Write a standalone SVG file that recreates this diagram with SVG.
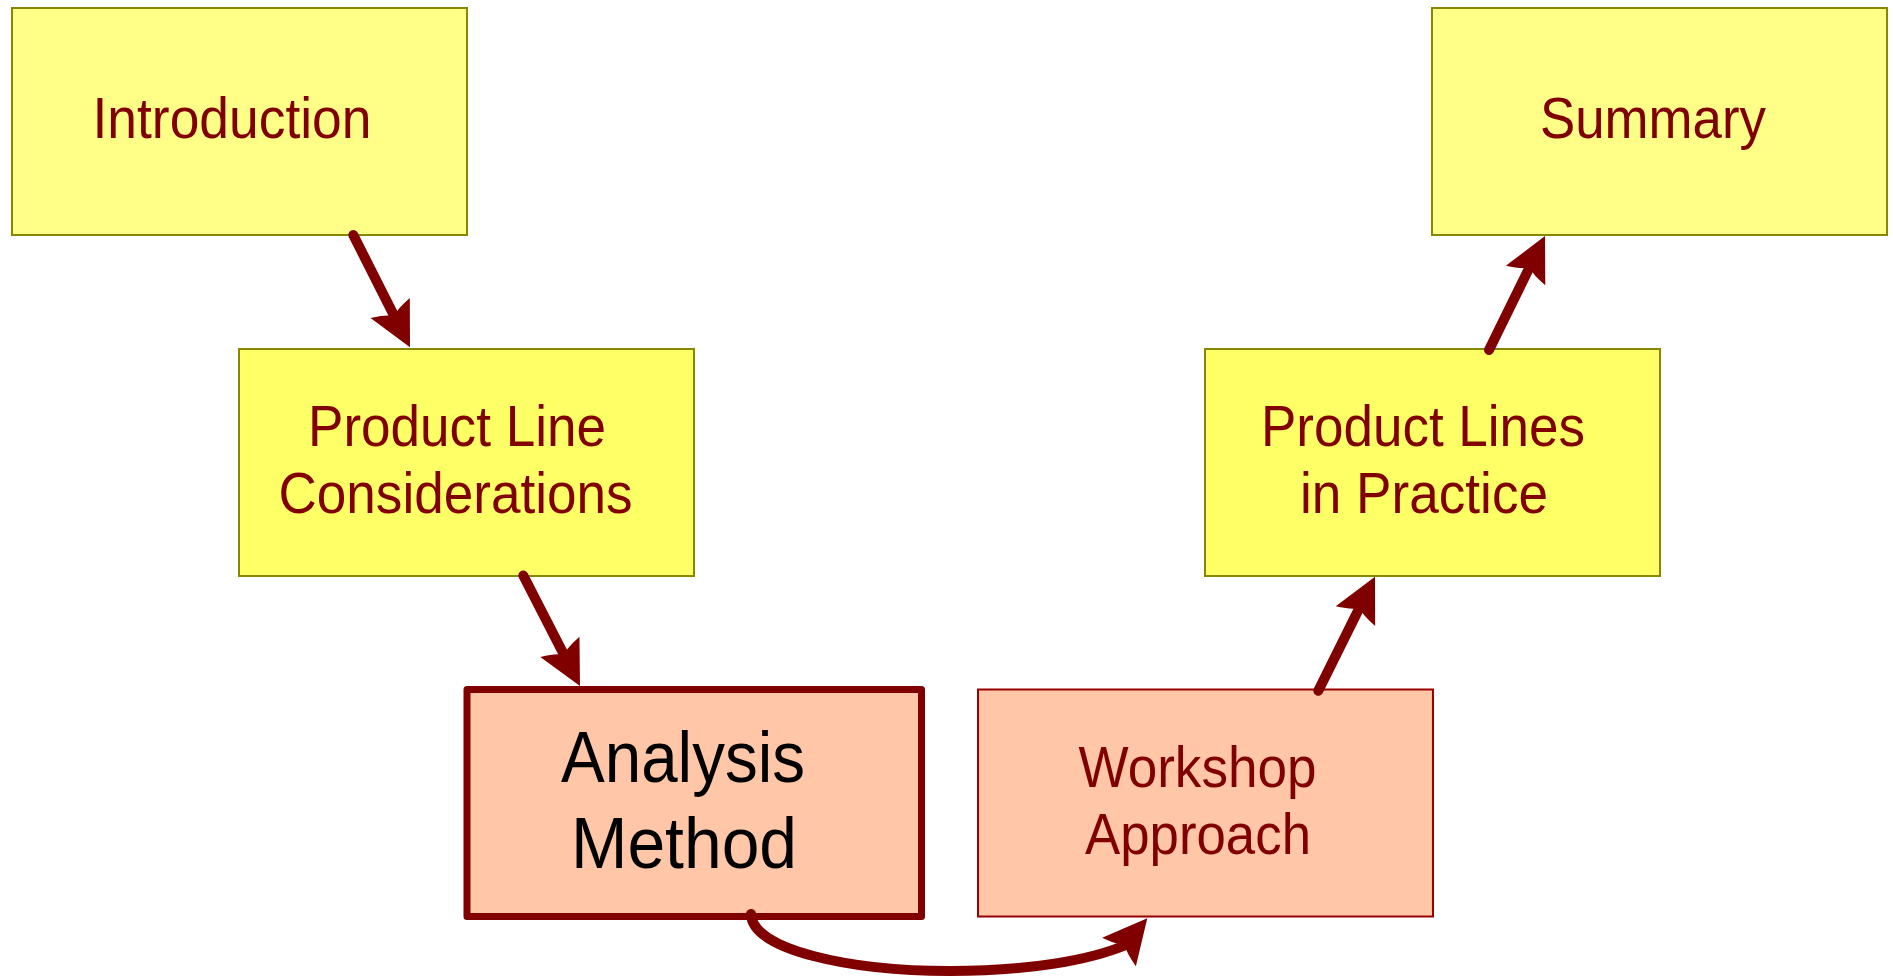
<svg xmlns="http://www.w3.org/2000/svg" xmlns:xlink="http://www.w3.org/1999/xlink" width="1893" height="977" viewBox="0 0 1893 977">
<style>
  .lt { fill: #ffff88; stroke: #888800; stroke-width: 2; }
  .yl { fill: #ffff66; stroke: #888800; stroke-width: 2; }
  .pc { fill: #ffc6a8; stroke: #990000; stroke-width: 2; }
  .pcb { fill: #ffc6a8; stroke: #800000; stroke-width: 7; stroke-linejoin: round; }
  .t { font-family: "Liberation Sans", Arial, Helvetica, sans-serif; font-size: 57px; fill: #800000; text-anchor: middle; }
  .tb { font-family: "Liberation Sans", Arial, Helvetica, sans-serif; font-size: 72px; fill: #000000; text-anchor: middle; }
  .ln { fill: none; stroke: #800000; stroke-width: 10; stroke-linecap: round; stroke-linejoin: round; }
  .hd { fill: #800000; stroke: none; }
</style>
<defs>
  <path id="ah" d="M0,0 L-44,-22 Q-40,-6 -35,0 Q-40,6 -44,22 Z"/>
</defs>
<rect width="1893" height="977" fill="#ffffff"/>

<g id="introduction">
  <rect class="lt" x="12" y="8" width="455" height="227"/>
  <text class="t" x="232" y="138" textLength="279" lengthAdjust="spacingAndGlyphs">Introduction</text>
</g>
<g id="summary">
  <rect class="lt" x="1432" y="8" width="455" height="227"/>
  <text class="t" x="1653" y="138" textLength="226" lengthAdjust="spacingAndGlyphs">Summary</text>
</g>
<g id="product-line-considerations">
  <rect class="yl" x="239" y="349" width="455" height="227"/>
  <text class="t" x="457" y="445.7" textLength="298" lengthAdjust="spacingAndGlyphs">Product Line</text>
  <text class="t" x="455.5" y="513.3" textLength="354" lengthAdjust="spacingAndGlyphs">Considerations</text>
</g>
<g id="product-lines-in-practice">
  <rect class="yl" x="1205" y="349" width="455" height="227"/>
  <text class="t" x="1423" y="445.7" textLength="324" lengthAdjust="spacingAndGlyphs">Product Lines</text>
  <text class="t" x="1424" y="513.3" textLength="248" lengthAdjust="spacingAndGlyphs">in Practice</text>
</g>
<g id="analysis-method">
  <rect class="pcb" x="467" y="689.5" width="454.5" height="227"/>
  <text class="tb" x="683" y="781.7" textLength="244" lengthAdjust="spacingAndGlyphs">Analysis</text>
  <text class="tb" x="684" y="868.3" textLength="226" lengthAdjust="spacingAndGlyphs">Method</text>
</g>
<g id="workshop-approach">
  <rect class="pc" x="978" y="689.5" width="455" height="227"/>
  <text class="t" x="1197.5" y="786.7" textLength="238" lengthAdjust="spacingAndGlyphs">Workshop</text>
  <text class="t" x="1198" y="854.3" textLength="226" lengthAdjust="spacingAndGlyphs">Approach</text>
</g>

<g id="connectors">
  <path class="ln" d="M353.3,235 L396.5,320.5"/>
  <use class="hd" href="#ah" xlink:href="#ah" transform="translate(410,347.3) rotate(63.2)"/>

  <path class="ln" d="M523.3,575.5 L566.3,659.3"/>
  <use class="hd" href="#ah" xlink:href="#ah" transform="translate(580,686) rotate(62.8)"/>

  <path class="ln" d="M1318.3,690.7 L1361.6,603.6"/>
  <use class="hd" href="#ah" xlink:href="#ah" transform="translate(1375,576.7) rotate(-63.6)"/>

  <path class="ln" d="M1489,350 L1531.8,262.9"/>
  <use class="hd" href="#ah" xlink:href="#ah" transform="translate(1545,236) rotate(-63.8)"/>

  <path class="ln" d="M751,914 C752,950 850,971 950,971 C1030,971 1090,960 1126,945"/>
  <use class="hd" href="#ah" xlink:href="#ah" transform="translate(1147.3,918.3) rotate(-50)"/>
</g>
</svg>
